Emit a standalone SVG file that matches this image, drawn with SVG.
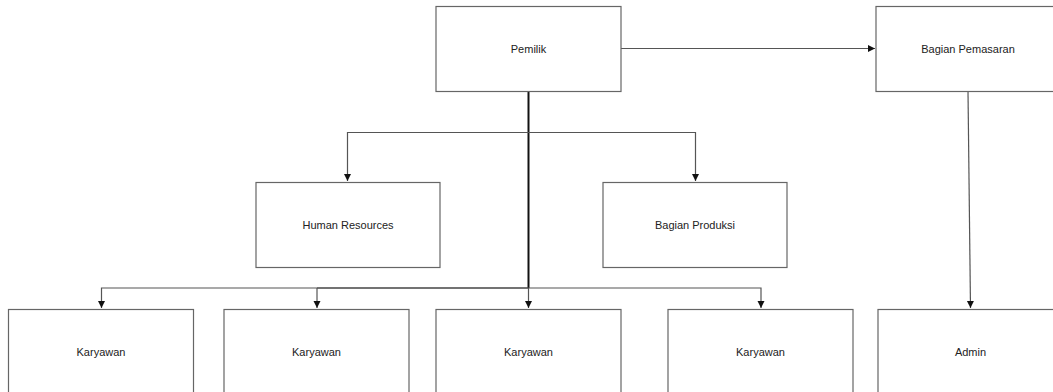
<svg xmlns="http://www.w3.org/2000/svg" width="1053" height="392" viewBox="0 0 1053 392">
<style>
.box{fill:#fff;stroke:#666;stroke-width:1.2}
.lbl{font-family:"Liberation Sans",Arial,sans-serif;font-size:11px;fill:#222;text-anchor:middle;dominant-baseline:central}
.ln{fill:none;stroke:#555;stroke-width:1.2}
.thick{fill:none;stroke:#111;stroke-width:2}
</style>
<defs>
<marker id="ah" markerWidth="8" markerHeight="8" refX="7" refY="4" orient="auto" markerUnits="userSpaceOnUse">
<path d="M0,0.5 L7,4 L0,7.5 Z" fill="#111"/>
</marker>
</defs>
<rect width="1053" height="392" fill="#fff"/>
<g id="connectors">
<path class="ln" d="M621,48.5 H875" marker-end="url(#ah)"/>
<path class="thick" d="M528.5,91 V288"/>
<path class="ln" d="M528,132.5 H347.5 V181" marker-end="url(#ah)"/>
<path class="ln" d="M528,132.5 H695.5 V181" marker-end="url(#ah)"/>
<path class="ln" d="M317,288 H101.5 V308" marker-end="url(#ah)"/>
<path class="thick" d="M528,288 H317" style="stroke:#444;stroke-width:1.6"/>
<path class="ln" d="M317,288 V308" marker-end="url(#ah)"/>
<path class="ln" d="M528.5,288 V308" marker-end="url(#ah)"/>
<path class="ln" d="M528,288 H761 V308" marker-end="url(#ah)"/>
<path class="ln" d="M968,91 L970.5,308" marker-end="url(#ah)"/>
</g>
<g id="pemilik"><rect class="box" x="436" y="6.5" width="185" height="85"/><text class="lbl" x="528.5" y="49">Pemilik</text></g>
<g id="pemasaran"><rect class="box" x="876" y="6.5" width="185" height="85"/><text class="lbl" x="968" y="49">Bagian Pemasaran</text></g>
<g id="hr"><rect class="box" x="256" y="182.5" width="184" height="85"/><text class="lbl" x="348" y="225">Human Resources</text></g>
<g id="produksi"><rect class="box" x="603" y="182.5" width="184" height="85"/><text class="lbl" x="695" y="225">Bagian Produksi</text></g>
<g id="karyawan1"><rect class="box" x="8.5" y="309.5" width="185" height="85"/><text class="lbl" x="101" y="352">Karyawan</text></g>
<g id="karyawan2"><rect class="box" x="224" y="309.5" width="185" height="85"/><text class="lbl" x="316.5" y="352">Karyawan</text></g>
<g id="karyawan3"><rect class="box" x="436" y="309.5" width="185" height="85"/><text class="lbl" x="528.5" y="352">Karyawan</text></g>
<g id="karyawan4"><rect class="box" x="668" y="309.5" width="185" height="85"/><text class="lbl" x="760.5" y="352">Karyawan</text></g>
<g id="admin"><rect class="box" x="878" y="309.5" width="185" height="85"/><text class="lbl" x="970.5" y="352">Admin</text></g>
</svg>
